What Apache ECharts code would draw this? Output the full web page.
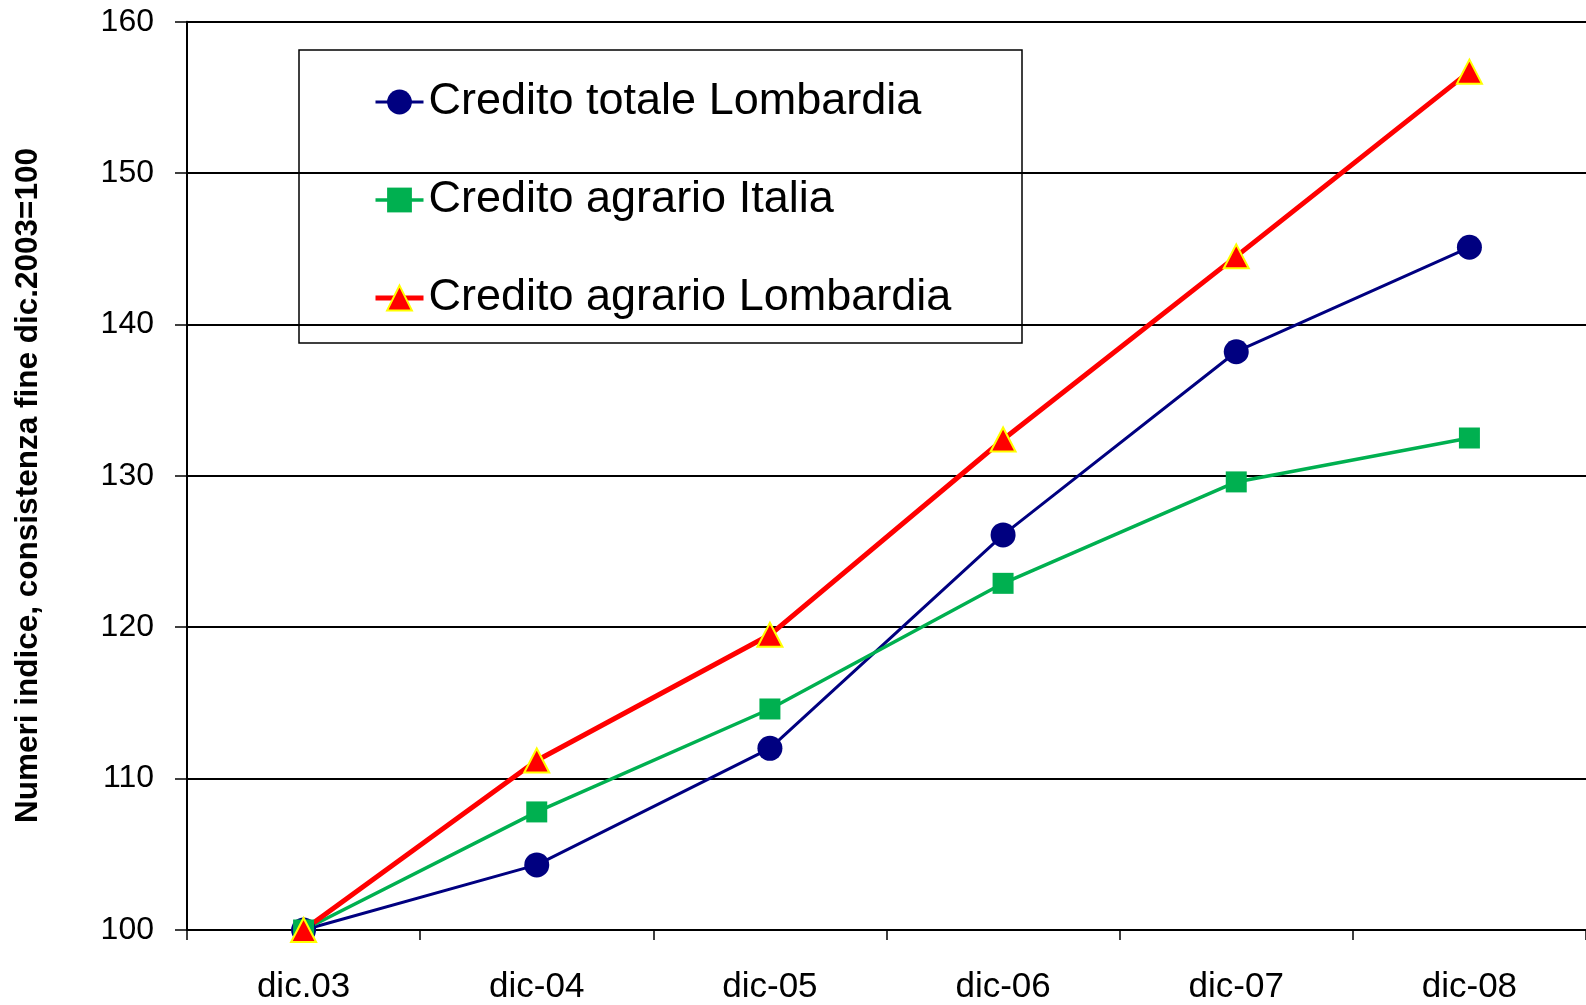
<!DOCTYPE html>
<html>
<head>
<meta charset="utf-8">
<script src="https://cdn.jsdelivr.net/npm/echarts@6/dist/echarts.min.js"></script>
<style>
  html, body { margin: 0; padding: 0; background: #fff; }
  #chart { width: 1586px; height: 1005px; }
</style>
</head>
<body>
<div id="chart"></div>
<script>
const categories = ['dic.03', 'dic-04', 'dic-05', 'dic-06', 'dic-07', 'dic-08'];
const creditoTotaleLombardia = [100, 104.3, 112.0, 126.1, 138.2, 145.1];
const creditoAgrarioItalia = [100, 107.8, 114.6, 122.9, 129.6, 132.5];
const creditoAgrarioLombardia = [100, 111.2, 119.5, 132.4, 144.5, 156.7];
const seriesNames = ['Credito totale Lombardia', 'Credito agrario Italia', 'Credito agrario Lombardia'];
const yAxisTitle = 'Numeri indice, consistenza fine dic.2003=100';

const chart = echarts.init(document.getElementById('chart'));
const font = "'Liberation Sans', Arial, sans-serif";

const blue = '#000080', green = '#00B050', red = '#FF0000', yellow = '#FFFF00';

chart.setOption({
  animation: false,
  backgroundColor: '#ffffff',
  grid: { left: 187, right: 0, top: 21.7, bottom: 72.5, containLabel: false },
  legend: {
    orient: 'vertical',
    left: 373,
    top: 79.5,
    padding: 0,
    itemGap: 53,
    itemWidth: 48,
    itemHeight: 31,
    data: [
      { name: seriesNames[0], lineStyle: { color: blue, width: 3 }, itemStyle: { color: blue } },
      { name: seriesNames[1], lineStyle: { color: green, width: 3.5 }, itemStyle: { color: green } },
      { name: seriesNames[2], lineStyle: { color: red, width: 5 }, itemStyle: { color: red, borderColor: yellow, borderWidth: 2 } }
    ],
    textStyle: { fontFamily: font, fontSize: 45, color: '#000' },
    selectedMode: false
  },
  graphic: [
    {
      type: 'rect',
      shape: { x: 299, y: 50, width: 723, height: 293 },
      style: { fill: 'none', stroke: '#000', lineWidth: 1.5 },
      z: 10
    },
    {
      type: 'text',
      x: 28,
      y: 485.5,
      rotation: Math.PI / 2,
      style: {
        text: yAxisTitle,
        font: "bold 31.5px 'Liberation Sans', Arial, sans-serif",
        fill: '#000',
        align: 'center',
        verticalAlign: 'middle'
      }
    }
  ],
  xAxis: {
    type: 'category',
    data: categories,
    boundaryGap: true,
    axisLine: { lineStyle: { color: '#000', width: 2 } },
    axisTick: { show: true, length: 10, lineStyle: { color: '#000', width: 1.5 } },
    axisLabel: { fontFamily: font, fontSize: 35, color: '#000', margin: 40, interval: 0 },
    splitLine: { show: false }
  },
  yAxis: {
    type: 'value',
    min: 100,
    max: 160,
    interval: 10,
    axisLine: { show: true, lineStyle: { color: '#000', width: 2 } },
    axisTick: { show: true, length: 12, lineStyle: { color: '#000', width: 1.5 } },
    axisLabel: { fontFamily: font, fontSize: 32, color: '#000', margin: 33 },
    splitLine: { show: true, lineStyle: { color: '#000', width: 2 } }
  },
  series: [
    {
      name: seriesNames[0],
      type: 'line',
      data: creditoTotaleLombardia,
      symbol: 'circle',
      symbolSize: 25,
      lineStyle: { color: blue, width: 3 },
      itemStyle: { color: blue }
    },
    {
      name: seriesNames[1],
      type: 'line',
      data: creditoAgrarioItalia,
      symbol: 'rect',
      symbolSize: 21,
      lineStyle: { color: green, width: 3.5 },
      itemStyle: { color: green }
    },
    {
      name: seriesNames[2],
      type: 'line',
      data: creditoAgrarioLombardia,
      symbol: 'triangle',
      symbolSize: [25, 24],
      lineStyle: { color: red, width: 5 },
      itemStyle: { color: red, borderColor: yellow, borderWidth: 2 }
    }
  ]
});
</script>
</body>
</html>
